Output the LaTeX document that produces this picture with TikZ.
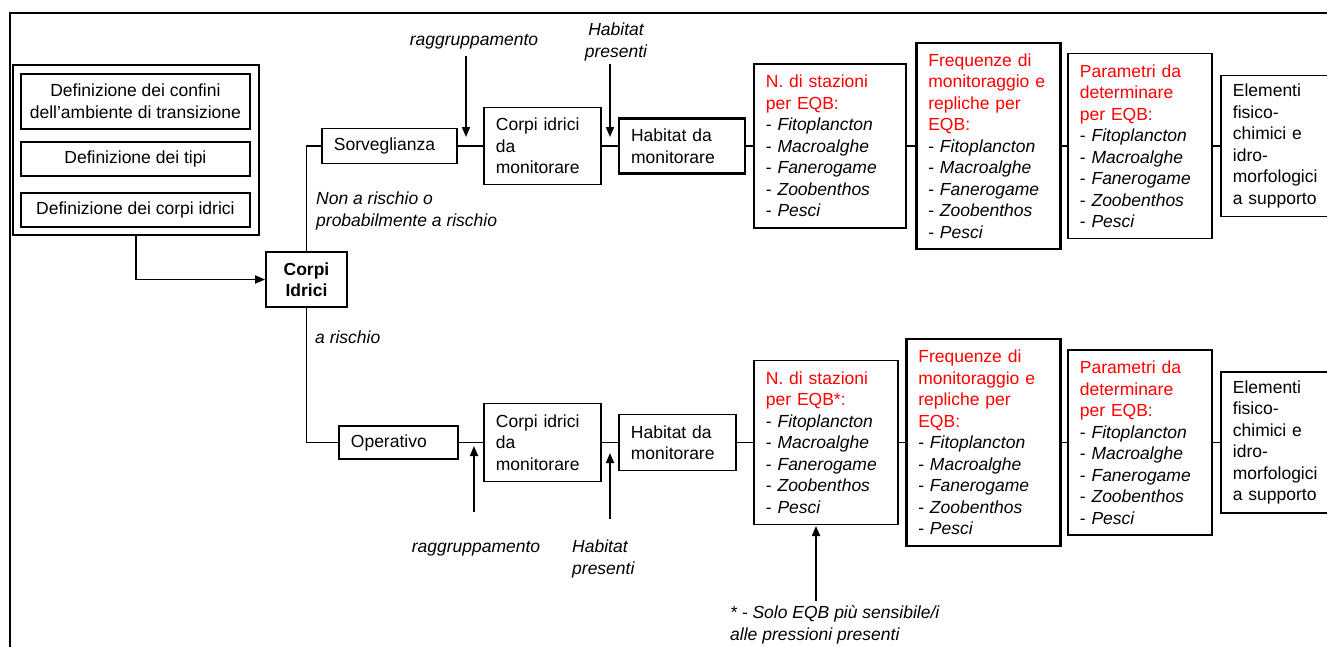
\documentclass[tikz,border=0pt]{standalone}
\usepackage{fontspec}
\setmainfont{Liberation Sans}
\usetikzlibrary{arrows.meta}
\definecolor{hdred}{RGB}{255,0,0}
\begin{document}
\begin{tikzpicture}[x=1pt,y=-1pt,
  every node/.style={font=\fontsize{17.5}{21.5}\selectfont},
  box/.style={draw, line width=1.8pt, rectangle, inner xsep=12pt, inner ysep=0pt, align=left, anchor=west},
  gbox/.style={draw, line width=1.8pt, rectangle, inner sep=0pt, align=center, anchor=north west},
  thick box/.style={box, line width=2.6pt},
  conn/.style={line width=1.9pt},
  arr/.style={line width=1.7pt, -{Triangle[length=10pt,width=8pt]}},
  lbl/.style={font=\fontsize{17.5}{21.5}\selectfont\itshape, inner sep=0pt, align=left},
  hd/.style={text=hdred}
]
\useasboundingbox (0,0) rectangle (1327,646);
\fill[white] (0,0) rectangle (1327,646);
% frame
\draw[line width=1.9pt] (10,660) -- (10,13) -- (1340,13);

% left group
\node[gbox, minimum width=246pt, minimum height=170pt] (grp) at (12,64) {};
\node[gbox, minimum width=229pt, minimum height=55pt] (def1) at (20,73) {Definizione dei confini\\dell'ambiente di transizione};
\node[gbox, minimum width=229pt, minimum height=34pt] (def2) at (20,141) {Definizione dei tipi};
\node[gbox, minimum width=229pt, minimum height=34pt] (def3) at (20,192) {Definizione dei corpi idrici};

% central node
\node[draw, line width=1.8pt, align=center, minimum width=81pt, minimum height=55pt, inner sep=0pt,
      font=\fontsize{17.5}{21.5}\selectfont\bfseries] (corpi) at (306.5,279.5) {Corpi\\Idrici};

% top row
\node[box, text width=111pt, minimum height=35pt] (sorv) at (321,146) {Sorveglianza};
\node[box, text width=93pt, minimum height=77pt] (cdm1) at (483,146) {Corpi idrici\\da\\monitorare};
\node[box, text width=102pt, minimum height=55pt, line width=2.2pt] (hab1) at (618,146) {Habitat da\\monitorare};
\node[box, text width=128pt, minimum height=164pt] (nst1) at (753,146) {\textcolor{hdred}{N. di stazioni}\\\textcolor{hdred}{per EQB:}\\- \textit{Fitoplancton}\\- \textit{Macroalghe}\\- \textit{Fanerogame}\\- \textit{Zoobenthos}\\- \textit{Pesci}};
\node[thick box, text width=120pt, minimum height=206pt] (frq1) at (915,146) {\textcolor{hdred}{Frequenze di}\\\textcolor{hdred}{monitoraggio e}\\\textcolor{hdred}{repliche per}\\\textcolor{hdred}{EQB:}\\- \textit{Fitoplancton}\\- \textit{Macroalghe}\\- \textit{Fanerogame}\\- \textit{Zoobenthos}\\- \textit{Pesci}};
\node[box, text width=120pt, minimum height=185pt] (par1) at (1067,146) {\textcolor{hdred}{Parametri da}\\\textcolor{hdred}{determinare}\\\textcolor{hdred}{per EQB:}\\- \textit{Fitoplancton}\\- \textit{Macroalghe}\\- \textit{Fanerogame}\\- \textit{Zoobenthos}\\- \textit{Pesci}};
\node[box, text width=96pt, minimum height=141pt] (ele1) at (1220,146) {Elementi\\fisico-\\chimici e\\idro-\\morfologici\\a supporto};

% bottom row
\node[box, text width=95pt, minimum height=33pt] (oper) at (338,442.5) {Operativo};
\node[box, text width=93pt, minimum height=78pt] (cdm2) at (483,442.5) {Corpi idrici\\da\\monitorare};
\node[box, text width=93pt, minimum height=56pt] (hab2) at (618,442.5) {Habitat da\\monitorare};
\node[box, text width=120pt, minimum height=164pt] (nst2) at (753,442.5) {\textcolor{hdred}{N. di stazioni}\\\textcolor{hdred}{per EQB*:}\\- \textit{Fitoplancton}\\- \textit{Macroalghe}\\- \textit{Fanerogame}\\- \textit{Zoobenthos}\\- \textit{Pesci}};
\node[thick box, text width=130pt, minimum height=207pt] (frq2) at (905,442.5) {\textcolor{hdred}{Frequenze di}\\\textcolor{hdred}{monitoraggio e}\\\textcolor{hdred}{repliche per}\\\textcolor{hdred}{EQB:}\\- \textit{Fitoplancton}\\- \textit{Macroalghe}\\- \textit{Fanerogame}\\- \textit{Zoobenthos}\\- \textit{Pesci}};
\node[box, text width=120pt, minimum height=185pt] (par2) at (1067,442.5) {\textcolor{hdred}{Parametri da}\\\textcolor{hdred}{determinare}\\\textcolor{hdred}{per EQB:}\\- \textit{Fitoplancton}\\- \textit{Macroalghe}\\- \textit{Fanerogame}\\- \textit{Zoobenthos}\\- \textit{Pesci}};
\node[box, text width=96pt, minimum height=141pt] (ele2) at (1220,442.5) {Elementi\\fisico-\\chimici e\\idro-\\morfologici\\a supporto};

% connectors
\draw[conn, -{Triangle[length=10pt,width=8pt]}] (grp.south) |- (corpi.west);
\draw[conn] (corpi.north) |- (sorv.west);
\draw[conn] (corpi.south) |- (oper.west);
\draw[conn] (sorv.east) -- (cdm1.west);
\draw[conn] (cdm1.east) -- (hab1.west);
\draw[conn] (hab1.east) -- (nst1.west);
\draw[conn] (nst1.east) -- (frq1.west);
\draw[conn] (frq1.east) -- (par1.west);
\draw[conn] (par1.east) -- (ele1.west);
\draw[conn] (oper.east) -- (cdm2.west);
\draw[conn] (cdm2.east) -- (hab2.west);
\draw[conn] (hab2.east) -- (nst2.west);
\draw[conn] (nst2.east) -- (frq2.west);
\draw[conn] (frq2.east) -- (par2.west);
\draw[conn] (par2.east) -- (ele2.west);

% labels
\node[lbl, anchor=west] (nonris) at (316,211) {Non a rischio o\\probabilmente a rischio};
\node[lbl, anchor=west] (aris) at (315,337) {a rischio};
\node[lbl, anchor=center] (rag1) at (474,42) {raggruppamento};
\node[lbl, anchor=center, align=center] (hp1) at (616,42) {Habitat\\presenti};
\node[lbl, anchor=center] (rag2) at (476,549) {raggruppamento};
\node[lbl, anchor=west] (hp2) at (572,559) {Habitat\\presenti};
\node[lbl, anchor=west] (note) at (730,625) {* - Solo EQB pi\`u sensibile/i\\alle pressioni presenti};

% arrows
\coordinate (r1s) at (466,56);  \coordinate (r1e) at (466,137);
\coordinate (h1s) at (610,64);  \coordinate (h1e) at (610,137);
\coordinate (r2s) at (474,512); \coordinate (r2e) at (474,446);
\coordinate (h2s) at (610,519); \coordinate (h2e) at (610,453);
\coordinate (n2s) at (816,601); \coordinate (n2e) at (816,526);
\draw[arr] (r1s) -- (r1e);
\draw[arr] (h1s) -- (h1e);
\draw[arr] (r2s) -- (r2e);
\draw[arr] (h2s) -- (h2e);
\draw[arr] (n2s) -- (n2e);
\end{tikzpicture}
\end{document}
